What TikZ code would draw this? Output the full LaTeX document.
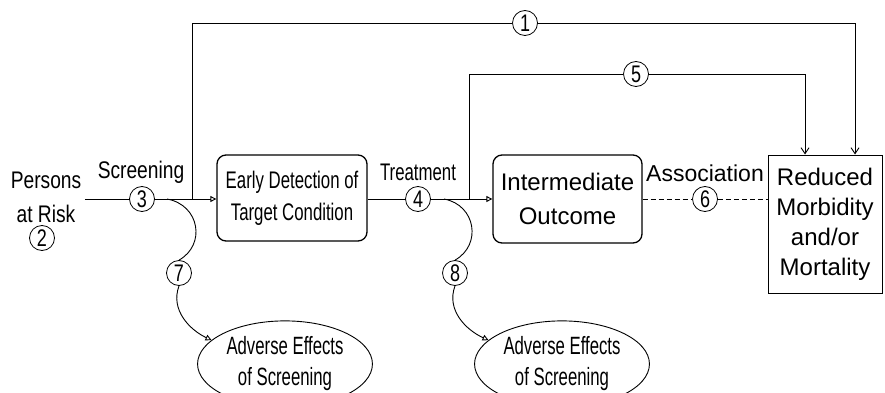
\documentclass[tikz,border=0pt]{standalone}
\usepackage{fontspec}
\setmainfont{Liberation Sans}
\newfontfamily\cond[FakeStretch=0.70]{Liberation Sans}
\newfontfamily\condb[FakeStretch=0.80]{Liberation Sans}
\newfontfamily\condc[FakeStretch=0.67]{Liberation Sans}
\newfontfamily\condd[FakeStretch=0.75]{Liberation Sans}
\usetikzlibrary{arrows.meta,shapes.geometric}
\tikzset{
  conn/.style={line width=0.9pt},
  arr/.style={conn, -{Triangle[open,length=6pt,width=6pt]}},
  darr/.style={conn, -{Straight Barb[length=6pt,width=8pt]}},
  box/.style={draw, line width=1.3pt, rounded corners=9pt, minimum width=150pt, minimum height=86pt, align=center, font=\fontsize{24}{32}\selectfont\cond},
  num/.style={circle, draw, line width=0.8pt, inner sep=0pt, minimum size=25pt, fill=white, font=\fontsize{24}{24}\selectfont\condd},
  lbl/.style={font=\fontsize{24}{24}\selectfont\cond},
  adv/.style={ellipse, draw, line width=0.9pt, minimum width=166pt, minimum height=84pt, align=center, font=\fontsize{25}{31}\selectfont\condc}
}
\begin{document}
\begin{tikzpicture}[x=1pt,y=-1pt]
\useasboundingbox (0,0) rectangle (885,393);
% nodes
\node[align=center, font=\fontsize{24}{34}\selectfont\condb] (persons) at (46,197) {Persons\\at Risk};
\node[num] (n2) at (42,238) {2};
\node[num] (n3) at (142,199) {3};
\node[lbl, font=\fontsize{24}{24}\selectfont\condb] (scr) at (141,172) {Screening};
\node[box] (ed) at (292,198) {Early Detection of\\Target Condition};
\node[num] (n4) at (418,199) {4};
\node[lbl] (trt) at (418,172) {Treatment};
\node[box, minimum width=149pt, minimum height=88pt, font=\fontsize{24}{34}\selectfont] (io) at (567.5,199) {Intermediate\\Outcome};
\node[num] (n6) at (705,199) {6};
\node[font=\fontsize{23}{23}\selectfont] (assoc) at (705,173) {Association};
\node[draw, line width=1pt, minimum width=114pt, minimum height=138pt, align=center, font=\fontsize{24}{30}\selectfont] (rm) at (825,224) {Reduced\\Morbidity\\and/or\\Mortality};
\node[num] (n1) at (525,23) {1};
\node[num] (n5) at (636,74) {5};
\node[num] (n7) at (179,273) {7};
\node[num] (n8) at (455,273) {8};
\node[adv] (ae1) at (285,364) {Adverse Effects\\of Screening};
\node[adv] (ae2) at (562,364) {Adverse Effects\\of Screening};
% coordinates
\coordinate (j1) at (192,199);
\coordinate (t1) at (855,23);
\coordinate (j5) at (469,199);
\coordinate (t5) at (805,74);
\coordinate (s7) at (167,199);
\coordinate (s8) at (444,199);
% connectors
\draw[conn] (persons.east |- n3) -- (n3.west);
\draw[arr] (n3.east) -- (ed.west |- n3);
\draw[conn] (j1) |- (n1.west);
\draw[darr] (n1.east) -- (t1) -- (t1 |- rm.north);
\draw[conn] (ed.east |- n4) -- (n4.west);
\draw[arr] (n4.east) -- (io.west |- n4);
\draw[conn] (j5) |- (n5.west);
\draw[darr] (n5.east) -- (t5) -- (t5 |- rm.north);
\draw[conn, dash pattern=on 5pt off 3pt] (io.east |- n6) -- (n6.west);
\draw[conn, dash pattern=on 5pt off 3pt] (n6.east) -- (rm.west |- n6);
\draw[conn] (s7) .. controls (200,205) and (206,245) .. (n7.north);
\draw[arr] (n7.south) .. controls (170,310) and (190,330) .. (ae1.162);
\draw[conn] (s8) .. controls (476,205) and (482,245) .. (n8.north);
\draw[arr] (n8.south) .. controls (446,310) and (466,330) .. (ae2.162);
\end{tikzpicture}
\end{document}
